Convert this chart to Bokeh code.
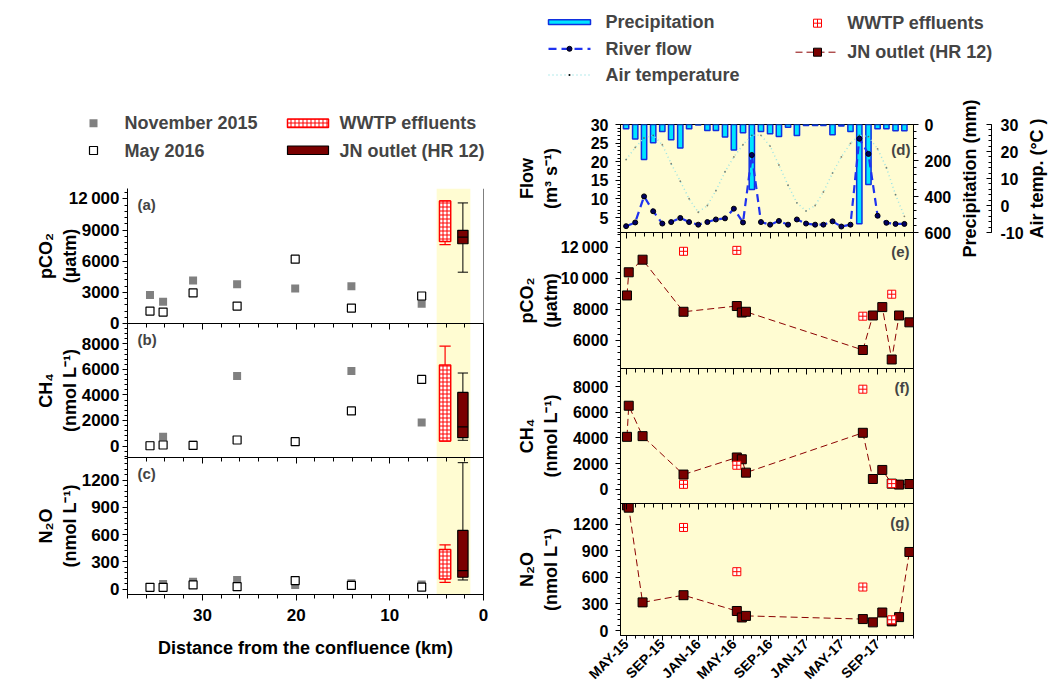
import pandas as pd
from math import pi
from bokeh.plotting import figure
from bokeh.layouts import row, column
from bokeh.models import (Range1d, LinearAxis, FixedTicker, Label, BoxAnnotation, Span,
                          CustomJSTickFormatter)
from bokeh.embed import file_html
from bokeh.resources import INLINE

FONT = "Liberation Sans"

# ---------------- Left panels: longitudinal survey ----------------
distance_km = [35.6, 34.2, 31.0, 26.3, 20.1, 14.1, 6.6]
pco2_nov2015 = [2750, 2100, 4130, 3770, 3360, 3580, 1900]
pco2_may2016 = [1200, 1100, 2940, 1680, 6190, 1490, 2650]
ch4_nov2015 = [60, 730, 90, 5480, 320, 5880, 1840]
ch4_may2016 = [20, 80, 50, 470, 340, 2750, 5220]
n2o_nov2015 = [15, 55, 80, 100, 45, 65, 50]
n2o_may2016 = [19, 19, 45, 26, 93, 41, 22]

wwtp_km = 4.1
jn_km = 2.2
# WWTP effluents: [low whisker, q1, q3, high whisker]
wwtp_pco2_box = [7600, 7900, 11800, 11800]
wwtp_ch4_box = [390, 390, 6350, 7820]
wwtp_n2o_box = [74, 111, 435, 487]
# JN outlet: [low whisker, q1, median, q3, high whisker]
jn_pco2_box = [4940, 7680, 8320, 8970, 11610]
jn_ch4_box = [450, 655, 1500, 4200, 5720]
jn_n2o_box = [100, 130, 204, 646, 1393]

# ---------------- Right panels: time series ----------------
months = pd.date_range("2015-05-01", "2017-12-01", freq="MS")
flow = [2.7, 3.7, 10.7, 6.7, 3.4, 3.8, 4.9, 3.8,
        3.1, 3.8, 4.5, 4.8, 7.4, 3.7, 21.8, 3.8, 3.1, 4.1, 3.1, 4.5,
        3.4, 3.1, 3.1, 4.0, 2.6, 3.1, 26.2, 22.1, 5.5, 3.6, 3.3, 3.3]
precip = [24, 80, 194, 102, 39, 85, 130, 24,
          3, 33, 33, 70, 141, 46, 361, 39, 52, 67, 15, 61,
          6, 6, 6, 57, 9, 39, 552, 333, 24, 24, 35, 35]
air_temp = [17, 21.5, 25, 26, 22.5, 15.5, 9, 2.5,
            -2.5, 0, 5.5, 12.5, 18, 22.5, 26, 26, 22, 15, 7.5, 1,
            -2, 0, 5, 12, 18, 23, 26, 25.5, 21, 14, 4, -4]

jn_dates = ["2015-05-04", "2015-05-10", "2015-06-26", "2015-11-12", "2016-05-11", "2016-05-28",
            "2016-06-11", "2017-07-13", "2017-08-16", "2017-09-17", "2017-10-19", "2017-11-13",
            "2017-12-18"]
jn_pco2 = [8900, 10390, 11200, 7850, 8220, 7800, 7850, 5390, 7610, 8150, 4780, 7610, 7170]
jn_ch4 = [4085, 6505, 4140, 1150, 2480, 2340, 1300, 4400, 805, 1510, 445, 370, 415]
jn_n2o = [1410, 1385, 318, 399, 221, 148, 166, 130, 93, 204, 104, 152, 886]

wwtp_dates = ["2015-11-12", "2016-05-11", "2017-07-13", "2017-10-19"]
wwtp_pco2 = [11740, 11800, 7565, 8980]
wwtp_ch4 = [390, 1875, 7790, 445]
wwtp_n2o = [1162, 664, 491, 122]

date_ticks = ["2015-05-01", "2015-09-01", "2016-01-01", "2016-05-01", "2016-09-01",
              "2017-01-01", "2017-05-01", "2017-09-01"]
date_tick_labels = ["MAY-15", "SEP-15", "JAN-16", "MAY-16", "SEP-16", "JAN-17", "MAY-17", "SEP-17"]


def ms(d):
    return pd.Timestamp(d).value / 1e6


month_ms = [ms(t) for t in months]
jn_ms = [ms(d) for d in jn_dates]
wwtp_ms = [ms(d) for d in wwtp_dates]
major_ms = [ms(d) for d in date_ticks]
minor_ms = [ms(t) for t in pd.date_range("2015-05-01", "2018-01-01", freq="MS")]
DAY = 86400000.0

# colours
NOV = "#808080"
JN_FILL = "#7A0000"
JN_LINE = "#8B0000"
BAND = "#FFFCD2"
CYAN = "#00E5FF"
PBLUE = "#1030E0"
FLOWC = "#1E32F0"
TEMPC = "#9CE4E4"


def mk(width, height, xr, yr, bl, br, bt, bb, bg="white"):
    p = figure(width=width, height=height, x_range=xr, y_range=yr,
               x_axis_location=None, y_axis_location=None,
               output_backend="svg", toolbar_location=None,
               min_border_left=bl, min_border_right=br, min_border_top=bt, min_border_bottom=bb)
    p.grid.visible = False
    p.background_fill_color = bg
    p.border_fill_alpha = 0
    p.outline_line_color = "black"
    p.outline_line_width = 1
    return p


def add_axis(p, side, ticks, minor, labels=None, size="17px", tin=0, tout=5, mtin=0, mtout=3,
             standoff=2, rname=None, title=None, title_standoff=5, orientation=None,
             hidden=False):
    kw = {}
    if rname:
        kw["y_range_name" if side in ("left", "right") else "x_range_name"] = rname
    ax = LinearAxis(ticker=FixedTicker(ticks=list(ticks), minor_ticks=list(minor)), **kw)
    ax.major_tick_in = tin
    ax.major_tick_out = tout
    ax.minor_tick_in = mtin
    ax.minor_tick_out = mtout
    col = None if hidden else "black"
    ax.axis_line_color = col
    ax.major_tick_line_color = col
    ax.minor_tick_line_color = col
    if labels is None:
        ax.formatter = CustomJSTickFormatter(code="return ''")
        ax.major_label_text_font_size = "0px"
        ax.major_label_standoff = 0
    else:
        ax.major_label_overrides = {t: l for t, l in zip(ticks, labels)}
        ax.major_label_text_font = FONT
        ax.major_label_text_font_style = "bold"
        ax.major_label_text_font_size = size
        ax.major_label_text_color = "black"
        ax.major_label_standoff = standoff
        if orientation is not None:
            ax.major_label_orientation = orientation
    if title is not None:
        ax.axis_label = title
        ax.axis_label_text_font = FONT
        ax.axis_label_text_font_style = "bold"
        ax.axis_label_text_font_size = "18px"
        ax.axis_label_text_color = "black"
        ax.axis_label_standoff = title_standoff
    p.add_layout(ax, side)
    return ax


def letter(p, geo, px, py, text, align):
    fl, fr, ft, fb = geo
    xr, yr = p.x_range, p.y_range
    x = xr.start + (px - fl) / (fr - fl) * (xr.end - xr.start)
    y = yr.start + (fb - py) / (fb - ft) * (yr.end - yr.start)
    p.add_layout(Label(x=x, y=y, text=text, text_font=FONT, text_font_style="bold",
                       text_font_size="15px", text_align=align, text_baseline="middle"))


def blank(width, height, xmax, ymax):
    p = figure(width=width, height=height, x_range=Range1d(0, xmax), y_range=Range1d(ymax, 0),
               x_axis_location=None, y_axis_location=None, output_backend="svg",
               toolbar_location=None, min_border=0)
    p.grid.visible = False
    p.outline_line_color = None
    return p


def legend_text(p, x, y, t):
    p.add_layout(Label(x=x, y=y, text=t, text_font=FONT, text_font_style="bold",
                       text_font_size="18px", text_align="left", text_baseline="middle"))


# ====================== LEFT COLUMN ======================
LW = 500
FL, FR = 127, 483
xr_km = Range1d(38, 0)

legL = blank(LW, 188, LW, 188)
legL.scatter(x=[93], y=[122.7], marker="square", size=8, fill_color=NOV, line_color=None)
legL.scatter(x=[93], y=[150], marker="square", size=8, fill_color="white", line_color="black",
             line_width=1.2)
legL.quad(left=[287], right=[328], top=[118.5], bottom=[127], fill_color="white",
          hatch_pattern="cross", hatch_color="red", hatch_scale=4, hatch_weight=1,
          line_color="red", line_width=1.5)
legL.quad(left=[287], right=[328], top=[145.5], bottom=[154], fill_color=JN_FILL,
          line_color="black", line_width=1.2)
legend_text(legL, 124, 122.7, "November 2015")
legend_text(legL, 124, 150, "May 2016")
legend_text(legL, 339, 122.7, "WWTP effluents")
legend_text(legL, 339, 150, "JN outlet (HR 12)")


def left_panel(height, yr, ft, fb, bb, ticks, minor, labels, nov, may, wbox, jbox, let,
               title, tstand):
    p = mk(LW, height, xr_km, yr, FL, LW - FR, 0, bb)
    p.add_layout(BoxAnnotation(left=5, right=1.4, fill_color=BAND, fill_alpha=1,
                               line_color=None, level="underlay"))
    add_axis(p, "left", ticks, minor, labels, size="17px", tout=5, mtout=3, standoff=3,
             title=title, title_standoff=tstand)
    p.scatter(x=distance_km, y=nov, marker="square", size=8, fill_color=NOV, line_color=None)
    p.scatter(x=distance_km, y=may, marker="square", size=8, fill_color="white",
              line_color="black", line_width=1.2)
    lo, q1, q3, hi = wbox
    w = 1.2
    p.segment(x0=[wwtp_km], y0=[lo], x1=[wwtp_km], y1=[hi], line_color="red", line_width=1.2)
    p.segment(x0=[wwtp_km - w / 2] * 2, y0=[lo, hi], x1=[wwtp_km + w / 2] * 2, y1=[lo, hi],
              line_color="red", line_width=1.2)
    p.quad(left=[wwtp_km - w / 2], right=[wwtp_km + w / 2], bottom=[q1], top=[q3],
           fill_color="white", hatch_pattern="cross", hatch_color="red", hatch_scale=4,
           hatch_weight=1, line_color="red", line_width=1.5)
    lo, q1, med, q3, hi = jbox
    w = 1.1
    p.segment(x0=[jn_km], y0=[lo], x1=[jn_km], y1=[hi], line_color="black", line_width=1)
    p.segment(x0=[jn_km - w / 2] * 2, y0=[lo, hi], x1=[jn_km + w / 2] * 2, y1=[lo, hi],
              line_color="black", line_width=1)
    p.quad(left=[jn_km - w / 2], right=[jn_km + w / 2], bottom=[q1], top=[q3],
           fill_color=JN_FILL, line_color="black", line_width=1.2)
    p.segment(x0=[jn_km - w / 2], y0=[med], x1=[jn_km + w / 2], y1=[med], line_color="black",
              line_width=1.2)
    letter(p, (FL, FR, ft, fb), 137, ft + 16, let, "left")
    return p


pa = left_panel(145, Range1d(0, 13000), 188, 323, 10,
                [0, 3000, 6000, 9000, 12000], range(0, 13000, 600),
                ["0", "3000", "6000", "9000", "12\u2009000"],
                pco2_nov2015, pco2_may2016, wwtp_pco2_box, jn_pco2_box, "(a)",
                "pCO\u2082\n(\u00b5atm)", -14)
pa.outline_line_color = None
pa.add_layout(Span(location=0, dimension="height", line_color="black", line_width=1))
add_axis(pa, "below", [0, 10, 20, 30], range(0, 39, 2), None, tout=6, mtout=4)

pb = left_panel(144, Range1d(-900, 9600), 323, 457, 10,
                [0, 2000, 4000, 6000, 8000], range(-800, 9600, 400),
                ["0", "2000", "4000", "6000", "8000"],
                ch4_nov2015, ch4_may2016, wwtp_ch4_box, jn_ch4_box, "(b)",
                "CH\u2084\n(nmol L\u207b\u00b9)", -1)
add_axis(pb, "below", [0, 10, 20, 30], range(0, 39, 2), None, tout=6, mtout=4)

pc = left_panel(233, Range1d(-60, 1450), 457, 594, 96,
                [0, 300, 600, 900, 1200], range(0, 1450, 60),
                ["0", "300", "600", "900", "1200"],
                n2o_nov2015, n2o_may2016, wwtp_n2o_box, jn_n2o_box, "(c)",
                "N\u2082O\n(nmol L\u207b\u00b9)", -1)
add_axis(pc, "below", [0, 10, 20, 30], range(0, 39, 2), ["0", "10", "20", "30"],
         size="17px", tout=6, mtout=4, standoff=8,
         title="Distance from the confluence (km)", title_standoff=14)

pa.styles = {"position": "relative", "z-index": "5"}
pb.styles = {"position": "relative", "z-index": "4", "margin-top": "-10px"}
pc.styles = {"position": "relative", "z-index": "3", "margin-top": "-10px"}

left_block = column(legL, column(pa, pb, pc))

# ====================== RIGHT COLUMN ======================
RW = 460
RFL, RFR = 620, 913
BL = RFL - 500
BR = RW - (RFR - 500)
xr_t = Range1d(ms("2015-04-12"), ms("2018-01-01"))

legR = blank(548, 90, 548, 90)
legR.quad(left=[48], right=[90], top=[19.3], bottom=[24], fill_color=CYAN, line_color=PBLUE,
          line_width=1.5)
legR.line(x=[48, 90], y=[48.3, 48.3], line_color=FLOWC, line_width=2.2, line_dash="8 5")
legR.scatter(x=[69], y=[48.3], marker="circle", size=5, fill_color="#000060", line_color="black")
legR.line(x=[48, 90], y=[74.5, 74.5], line_color=TEMPC, line_width=1.5, line_dash="1 3")
legR.scatter(x=[69], y=[74.5], marker="circle", size=2, fill_color="black", line_color=None)
legR.scatter(x=[317], y=[22.7], marker="square_cross", size=8, fill_color="white",
             line_color="red", line_width=1)
legR.line(x=[295, 338], y=[51.7, 51.7], line_color=JN_LINE, line_width=1, line_dash="7 4")
legR.scatter(x=[317], y=[51.7], marker="square", size=8, fill_color=JN_FILL, line_color="black")
legend_text(legR, 105, 21.7, "Precipitation")
legend_text(legR, 105, 48.3, "River flow")
legend_text(legR, 105, 74.5, "Air temperature")
legend_text(legR, 346.7, 22.7, "WWTP effluents")
legend_text(legR, 346.7, 51.7, "JN outlet (HR 12)")

# ---- panel (d)
pd_ = mk(RW, 152, xr_t, Range1d(1, 30), BL, BR, 34, 10, bg=BAND)
pd_.extra_y_ranges = {"precip": Range1d(600, 0), "temp": Range1d(-10, 30)}
add_axis(pd_, "left", [5, 10, 15, 20, 25, 30], range(1, 31), ["5", "10", "15", "20", "25", "30"],
         size="16px", tout=5, mtout=3, standoff=7, title="Flow\n(m\u00b3 s\u207b\u00b9)",
         title_standoff=27)
add_axis(pd_, "right", [0, 200, 400, 600], range(0, 601, 40), ["0", "200", "400", "600"],
         size="16px", tout=5, mtout=3, standoff=6, rname="precip")
add_axis(pd_, "below", major_ms, minor_ms, None, tout=6, mtout=4)
pd_.vbar(x=month_ms, width=18 * DAY, top=0, bottom=precip, y_range_name="precip",
         fill_color=CYAN, line_color=PBLUE, line_width=1.5)
pd_.line(x=month_ms, y=air_temp, y_range_name="temp", line_color=TEMPC, line_width=1.5,
         line_dash="1 3")
pd_.scatter(x=month_ms, y=air_temp, y_range_name="temp", marker="circle", size=1.8,
            fill_color="#222222", fill_alpha=0.55, line_color=None)
pd_.line(x=month_ms, y=flow, line_color=FLOWC, line_width=2.2, line_dash="8 5")
pd_.scatter(x=month_ms, y=flow, marker="circle", size=5, fill_color="#000060",
            line_color="black")
letter(pd_, (RFL, RFR, 124, 232), 910, 149, "(d)", "right")


def right_panel(height, yr, ft, fb, bb, ticks, minor, labels, jn_vals, ww_vals, let, title,
                tstand):
    p = mk(RW, height, xr_t, yr, BL, BR, 0, bb, bg=BAND)
    add_axis(p, "left", ticks, minor, labels, size="16px", tout=5, mtout=3, standoff=7,
             title=title, title_standoff=tstand)
    p.line(x=jn_ms, y=jn_vals, line_color=JN_LINE, line_width=1, line_dash="7 4")
    p.scatter(x=jn_ms, y=jn_vals, marker="square", size=9, fill_color=JN_FILL,
              line_color="black", line_width=1)
    p.scatter(x=wwtp_ms, y=ww_vals, marker="square_cross", size=8, fill_color="white",
              line_color="red", line_width=1)
    letter(p, (RFL, RFR, ft, fb), 909, ft + 19, let, "right")
    return p


pe = right_panel(146, Range1d(4200, 12950), 232, 368, 10,
                 [6000, 8000, 10000, 12000], range(4400, 12950, 400),
                 ["6000", "8000", "10\u2009000", "12\u2009000"], jn_pco2, wwtp_pco2, "(e)",
                 "pCO\u2082\n(\u00b5atm)", -3)
add_axis(pe, "below", major_ms, minor_ms, None, tout=6, mtout=4)

pf = right_panel(145, Range1d(-1100, 9400), 368, 503, 10,
                 [0, 2000, 4000, 6000, 8000], range(-800, 9400, 400),
                 ["0", "2000", "4000", "6000", "8000"], jn_ch4, wwtp_ch4, "(f)",
                 "CH\u2084\n(nmol L\u207b\u00b9)", 9)
add_axis(pf, "below", major_ms, minor_ms, None, tout=6, mtout=4)

pg = right_panel(187, Range1d(-55, 1432), 503, 638, 52,
                 [0, 300, 600, 900, 1200], range(0, 1432, 60),
                 ["0", "300", "600", "900", "1200"], jn_n2o, wwtp_n2o, "(g)",
                 "N\u2082O\n(nmol L\u207b\u00b9)", 9)
add_axis(pg, "below", major_ms, minor_ms, date_tick_labels, size="14px", tout=5, mtout=3,
         standoff=1, orientation=pi / 4)

pd_.styles = {"position": "relative", "z-index": "5"}
pe.styles = {"position": "relative", "z-index": "4", "margin-top": "-10px"}
pf.styles = {"position": "relative", "z-index": "3", "margin-top": "-10px"}
pg.styles = {"position": "relative", "z-index": "2", "margin-top": "-10px"}

right_col = column(pd_, pe, pf, pg)

# ---- side strip: precipitation title + air temperature axis
SW = 62
ps = figure(width=SW, height=600, x_range=Range1d(0, 1), y_range=Range1d(-10, 30),
            x_axis_location=None, y_axis_location=None, output_backend="svg",
            toolbar_location=None, min_border_left=27, min_border_right=SW - 29,
            min_border_top=34, min_border_bottom=458)
ps.grid.visible = False
ps.outline_line_color = None
ps.border_fill_alpha = 0
add_axis(ps, "left", [], [], None, tout=0, mtout=0, hidden=True,
         title="Precipitation (mm)", title_standoff=8)
add_axis(ps, "right", [-10, 0, 10, 20, 30], range(-10, 31, 2), ["-10", "0", "10", "20", "30"],
         size="16px", tin=5, tout=0, mtin=3, mtout=0, standoff=9)

ps2 = figure(width=26, height=600, x_range=Range1d(0, 1), y_range=Range1d(-10, 30),
             x_axis_location=None, y_axis_location=None, output_backend="svg",
             toolbar_location=None, min_border_left=24, min_border_right=0,
             min_border_top=34, min_border_bottom=458)
ps2.grid.visible = False
ps2.outline_line_color = None
ps2.border_fill_alpha = 0
add_axis(ps2, "left", [], [], None, tout=0, mtout=0, hidden=True,
         title="Air temp. (\u00b0C )", title_standoff=0)

right_block = column(legR, row(right_col, ps, ps2))
layout = row(left_block, right_block)

open("out.html", "w").write(file_html(layout, INLINE))
